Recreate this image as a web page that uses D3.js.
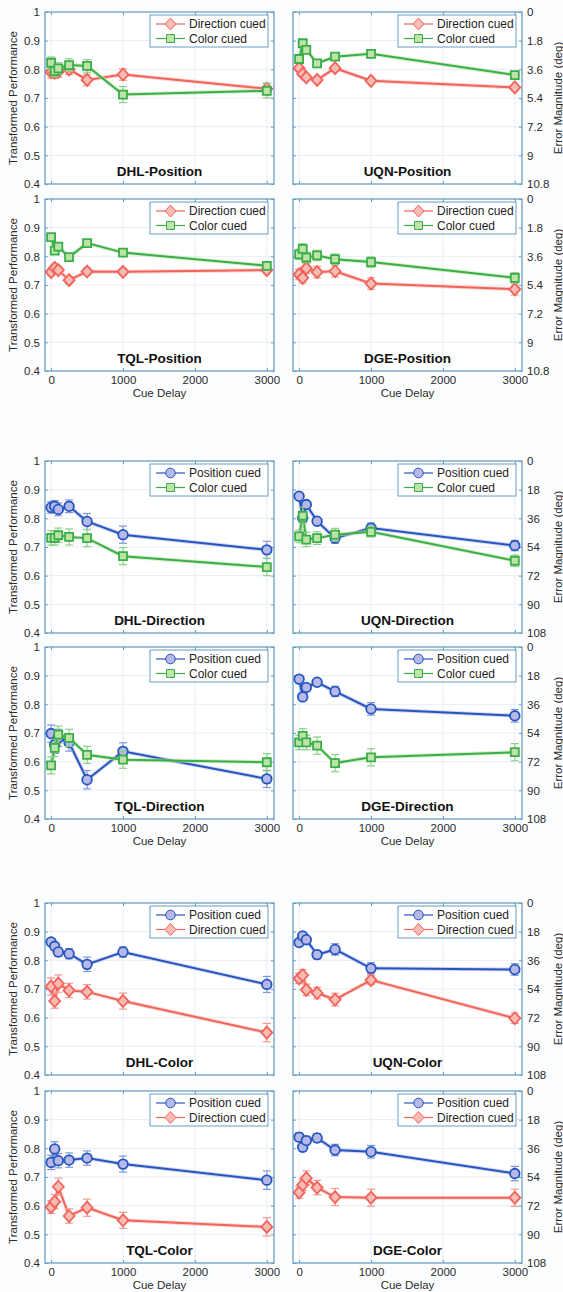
<!DOCTYPE html>
<meta charset="utf-8">
<html>
<head>
<style>
body {
  margin: 0;
  background: #fcfdfe;
  font-family: Arial, "Liberation Sans", Helvetica, sans-serif;
}
.tick text { fill: #2b2b2b; }
</style>
</head>
<body>
<div id="my_dataviz"></div>
<script src="https://d3js.org/d3.v7.min.js"></script>
<script>

// x values (cue delay, ms) and tick labels
var cueDelay = [0, 50, 100, 250, 500, 1000, 3000];
var xTicks = [0, 1000, 2000, 3000];
var perfTicks = [0.4, 0.5, 0.6, 0.7, 0.8, 0.9, 1];
var perfTickLabels = ["0.4", "0.5", "0.6", "0.7", "0.8", "0.9", "1"];
var errTicksPosition = ["10.8", "9", "7.2", "5.4", "3.6", "1.8", "0"];
var errTicksDeg = ["108", "90", "72", "54", "36", "18", "0"];

// ---- Position task ----
var dhlPosDir    = [0.790, 0.788, 0.792, 0.800, 0.763, 0.782, 0.732];
var dhlPosDirErr = [0.020, 0.020, 0.020, 0.018, 0.020, 0.020, 0.020];
var dhlPosCol    = [0.823, 0.794, 0.803, 0.815, 0.812, 0.712, 0.725];
var dhlPosColErr = [0.020, 0.020, 0.020, 0.022, 0.022, 0.028, 0.025];

var uqnPosDir    = [0.804, 0.784, 0.772, 0.763, 0.804, 0.760, 0.737];
var uqnPosDirErr = [0.006, 0.006, 0.006, 0.006, 0.006, 0.006, 0.006];
var uqnPosCol    = [0.836, 0.891, 0.868, 0.821, 0.844, 0.854, 0.780];
var uqnPosColErr = [0.005, 0.005, 0.005, 0.005, 0.005, 0.005, 0.005];

var tqlPosDir    = [0.745, 0.760, 0.752, 0.717, 0.747, 0.746, 0.752];
var tqlPosDirErr = [0.012, 0.012, 0.012, 0.012, 0.012, 0.012, 0.012];
var tqlPosCol    = [0.867, 0.820, 0.834, 0.797, 0.846, 0.813, 0.767];
var tqlPosColErr = [0.008, 0.008, 0.008, 0.012, 0.008, 0.008, 0.008];

var dgePosDir    = [0.737, 0.725, 0.758, 0.745, 0.748, 0.705, 0.685];
var dgePosDirErr = [0.018, 0.018, 0.018, 0.020, 0.020, 0.020, 0.020];
var dgePosCol    = [0.807, 0.826, 0.796, 0.803, 0.790, 0.780, 0.725];
var dgePosColErr = [0.018, 0.018, 0.018, 0.018, 0.018, 0.018, 0.018];

// ---- Direction task ----
var dhlDirPos    = [0.838, 0.842, 0.831, 0.842, 0.789, 0.743, 0.690];
var dhlDirPosErr = [0.020, 0.020, 0.022, 0.022, 0.028, 0.030, 0.030];
var dhlDirCol    = [0.732, 0.732, 0.741, 0.735, 0.731, 0.668, 0.630];
var dhlDirColErr = [0.025, 0.025, 0.025, 0.028, 0.030, 0.030, 0.030];

var uqnDirPos    = [0.877, 0.801, 0.848, 0.790, 0.731, 0.766, 0.705];
var uqnDirPosErr = [0.008, 0.015, 0.010, 0.010, 0.018, 0.018, 0.018];
var uqnDirCol    = [0.737, 0.809, 0.726, 0.731, 0.743, 0.753, 0.652];
var uqnDirColErr = [0.022, 0.030, 0.025, 0.022, 0.022, 0.018, 0.020];

var tqlDirPos    = [0.698, 0.659, 0.683, 0.667, 0.537, 0.636, 0.540];
var tqlDirPosErr = [0.030, 0.030, 0.030, 0.030, 0.032, 0.030, 0.030];
var tqlDirCol    = [0.587, 0.648, 0.694, 0.683, 0.624, 0.607, 0.598];
var tqlDirColErr = [0.030, 0.030, 0.030, 0.030, 0.030, 0.030, 0.030];

var dgeDirPos    = [0.888, 0.826, 0.859, 0.877, 0.845, 0.784, 0.760];
var dgeDirPosErr = [0.010, 0.012, 0.012, 0.012, 0.018, 0.022, 0.022];
var dgeDirCol    = [0.667, 0.690, 0.667, 0.656, 0.595, 0.615, 0.633];
var dgeDirColErr = [0.025, 0.025, 0.025, 0.030, 0.030, 0.030, 0.030];

// ---- Color task ----
var dhlColPos    = [0.864, 0.849, 0.829, 0.823, 0.786, 0.829, 0.716];
var dhlColPosErr = [0.012, 0.012, 0.015, 0.018, 0.025, 0.018, 0.028];
var dhlColDir    = [0.709, 0.658, 0.719, 0.695, 0.690, 0.658, 0.548];
var dhlColDirErr = [0.030, 0.025, 0.030, 0.025, 0.025, 0.028, 0.032];

var uqnColPos    = [0.862, 0.885, 0.872, 0.820, 0.838, 0.772, 0.768];
var uqnColPosErr = [0.010, 0.010, 0.010, 0.015, 0.020, 0.020, 0.020];
var uqnColDir    = [0.737, 0.748, 0.697, 0.686, 0.663, 0.731, 0.598];
var uqnColDirErr = [0.018, 0.020, 0.020, 0.020, 0.022, 0.015, 0.018];

var tqlColPos    = [0.751, 0.798, 0.757, 0.759, 0.766, 0.745, 0.689];
var tqlColPosErr = [0.025, 0.025, 0.025, 0.025, 0.025, 0.028, 0.032];
var tqlColDir    = [0.595, 0.614, 0.666, 0.564, 0.593, 0.549, 0.526];
var tqlColDirErr = [0.022, 0.025, 0.030, 0.025, 0.030, 0.028, 0.032];

var dgeColPos    = [0.839, 0.804, 0.827, 0.836, 0.794, 0.788, 0.712];
var dgeColPosErr = [0.015, 0.015, 0.015, 0.015, 0.020, 0.022, 0.025];
var dgeColDir    = [0.646, 0.673, 0.696, 0.663, 0.630, 0.628, 0.628];
var dgeColDirErr = [0.020, 0.020, 0.025, 0.025, 0.030, 0.030, 0.030];

// series look
var styles = {
  pos: {label: "Position cued",  line: "#2456c0", fill: "#b7b8e8", bar: "#7f96dc", shape: "circle"},
  dir: {label: "Direction cued", line: "#f1635b", fill: "#f8bcb4", bar: "#f29a90", shape: "diamond"},
  col: {label: "Color cued",     line: "#3aae48", fill: "#bde3a9", bar: "#8dcf86", shape: "square"}
};

// panels: group (task), row, column
var panels = [
  {name: "DHL-Position", g: 0, r: 0, c: 0, s: [["dir", dhlPosDir, dhlPosDirErr], ["col", dhlPosCol, dhlPosColErr]]},
  {name: "UQN-Position", g: 0, r: 0, c: 1, s: [["dir", uqnPosDir, uqnPosDirErr], ["col", uqnPosCol, uqnPosColErr]]},
  {name: "TQL-Position", g: 0, r: 1, c: 0, s: [["dir", tqlPosDir, tqlPosDirErr], ["col", tqlPosCol, tqlPosColErr]]},
  {name: "DGE-Position", g: 0, r: 1, c: 1, s: [["dir", dgePosDir, dgePosDirErr], ["col", dgePosCol, dgePosColErr]]},
  {name: "DHL-Direction", g: 1, r: 0, c: 0, s: [["pos", dhlDirPos, dhlDirPosErr], ["col", dhlDirCol, dhlDirColErr]]},
  {name: "UQN-Direction", g: 1, r: 0, c: 1, s: [["pos", uqnDirPos, uqnDirPosErr], ["col", uqnDirCol, uqnDirColErr]]},
  {name: "TQL-Direction", g: 1, r: 1, c: 0, s: [["pos", tqlDirPos, tqlDirPosErr], ["col", tqlDirCol, tqlDirColErr]]},
  {name: "DGE-Direction", g: 1, r: 1, c: 1, s: [["pos", dgeDirPos, dgeDirPosErr], ["col", dgeDirCol, dgeDirColErr]]},
  {name: "DHL-Color", g: 2, r: 0, c: 0, s: [["pos", dhlColPos, dhlColPosErr], ["dir", dhlColDir, dhlColDirErr]]},
  {name: "UQN-Color", g: 2, r: 0, c: 1, s: [["pos", uqnColPos, uqnColPosErr], ["dir", uqnColDir, uqnColDirErr]]},
  {name: "TQL-Color", g: 2, r: 1, c: 0, s: [["pos", tqlColPos, tqlColPosErr], ["dir", tqlColDir, tqlColDirErr]]},
  {name: "DGE-Color", g: 2, r: 1, c: 1, s: [["pos", dgeColPos, dgeColPosErr], ["dir", dgeColDir, dgeColDirErr]]}
];

// layout
var W = 563, H = 1292;
var colX = [45, 293], plotW = 229, plotH = 172;
var rowTops = [[12, 199], [461, 647], [903, 1091]];
var frame = "#6a9ec3", grid = "#e6edf4";

var svg = d3.select("#my_dataviz")
  .append("svg")
    .attr("width", W)
    .attr("height", H);

function markerPath(shape) {
  if (shape == "diamond") return "M0,-6L5.5,0L0,6L-5.5,0Z";
  if (shape == "square") return "M-4,-4H4V4H-4Z";
  return d3.symbol().type(d3.symbolCircle).size(Math.PI * 4.8 * 4.8)();
}

panels.forEach(function(p) {
  var left = colX[p.c], top = rowTops[p.g][p.r];
  var x = d3.scaleLinear().domain([-85, 3100]).range([left, left + plotW]);
  var y = d3.scaleLinear().domain([0.4, 1]).range([top + plotH, top]);
  var g = svg.append("g");

  g.append("rect")
    .attr("x", left).attr("y", top)
    .attr("width", plotW).attr("height", plotH)
    .attr("fill", "#ffffff");

  // grid
  g.selectAll(".gx").data(xTicks).enter().append("line")
    .attr("x1", function(d) { return x(d); }).attr("x2", function(d) { return x(d); })
    .attr("y1", top).attr("y2", top + plotH)
    .attr("stroke", grid).attr("stroke-width", 1);
  g.selectAll(".gy").data(perfTicks.slice(1, -1)).enter().append("line")
    .attr("x1", left).attr("x2", left + plotW)
    .attr("y1", function(d) { return y(d); }).attr("y2", function(d) { return y(d); })
    .attr("stroke", grid).attr("stroke-width", 1);

  // axes
  var yl = g.append("g").attr("transform", "translate(" + left + ",0)")
    .call(d3.axisLeft(y).tickValues(perfTicks).tickSizeInner(-3).tickSizeOuter(0)
      .tickFormat(function(d, i) { return p.c == 0 ? perfTickLabels[i] : ""; }));
  var errLabels = p.g == 0 ? errTicksPosition : errTicksDeg;
  var yr = g.append("g").attr("transform", "translate(" + (left + plotW) + ",0)")
    .call(d3.axisRight(y).tickValues(perfTicks).tickSizeInner(-3).tickSizeOuter(0)
      .tickFormat(function(d, i) { return p.c == 1 ? errLabels[i] : ""; }));
  var xb = g.append("g").attr("transform", "translate(0," + (top + plotH) + ")")
    .call(d3.axisBottom(x).tickValues(xTicks).tickSizeInner(-3).tickSizeOuter(0)
      .tickFormat(function(d) { return p.r == 1 ? d : ""; }));
  var xt = g.append("g").attr("transform", "translate(0," + top + ")")
    .call(d3.axisTop(x).tickValues(xTicks).tickSizeInner(-3).tickSizeOuter(0).tickFormat(""));
  [yl, yr, xb, xt].forEach(function(a) {
    a.selectAll("line").attr("stroke", frame);
    a.select(".domain").remove();
    a.selectAll("text").style("font-size", "11.5px").style("font-family", "Arial, 'Liberation Sans', sans-serif");
  });
  yl.selectAll("text").attr("x", -5);
  yr.selectAll("text").attr("x", 5);
  xb.selectAll("text").attr("y", 5);

  g.append("rect")
    .attr("x", left).attr("y", top)
    .attr("width", plotW).attr("height", plotH)
    .attr("fill", "none").attr("stroke", frame).attr("stroke-width", 1.3);

  // series
  p.s.forEach(function(s) {
    var st = styles[s[0]], vals = s[1], err = s[2];
    var pts = cueDelay.map(function(t, i) { return {t: t, v: vals[i], e: err[i]}; });
    var line = d3.line().x(function(d) { return x(d.t); }).y(function(d) { return y(d.v); });

    g.append("path").datum(pts).attr("d", line)
      .attr("fill", "none").attr("stroke", st.fill).attr("stroke-width", 4).attr("opacity", 0.6);
    g.append("path").datum(pts).attr("d", line)
      .attr("fill", "none").attr("stroke", st.line).attr("stroke-width", 2);

    var eb = g.selectAll(null).data(pts).enter().append("g").attr("stroke", st.bar).attr("stroke-width", 1.2);
    eb.append("line")
      .attr("x1", function(d) { return x(d.t); }).attr("x2", function(d) { return x(d.t); })
      .attr("y1", function(d) { return y(d.v - d.e); }).attr("y2", function(d) { return y(d.v + d.e); });
    eb.append("line")
      .attr("x1", function(d) { return x(d.t) - 4; }).attr("x2", function(d) { return x(d.t) + 4; })
      .attr("y1", function(d) { return y(d.v - d.e); }).attr("y2", function(d) { return y(d.v - d.e); });
    eb.append("line")
      .attr("x1", function(d) { return x(d.t) - 4; }).attr("x2", function(d) { return x(d.t) + 4; })
      .attr("y1", function(d) { return y(d.v + d.e); }).attr("y2", function(d) { return y(d.v + d.e); });

    g.selectAll(null).data(pts).enter().append("path")
      .attr("d", markerPath(st.shape))
      .attr("transform", function(d) { return "translate(" + x(d.t) + "," + y(d.v) + ")"; })
      .attr("fill", st.fill).attr("stroke", st.line).attr("stroke-width", 1.8);
  });

  // legend
  var lx = left + plotW - 124, ly = top + 3;
  g.append("rect").attr("x", lx).attr("y", ly).attr("width", 118).attr("height", 32)
    .attr("fill", "#ffffff").attr("stroke", frame).attr("stroke-width", 1);
  p.s.forEach(function(s, i) {
    var st = styles[s[0]], yy = ly + 9 + i * 14.5;
    g.append("line").attr("x1", lx + 6).attr("x2", lx + 35).attr("y1", yy).attr("y2", yy)
      .attr("stroke", st.line).attr("stroke-width", 1.2);
    g.append("path").attr("d", markerPath(st.shape))
      .attr("transform", "translate(" + (lx + 20.5) + "," + yy + ")")
      .attr("fill", st.fill).attr("stroke", st.line).attr("stroke-width", 1);
    g.append("text").attr("x", lx + 39).attr("y", yy + 4.2)
      .style("font-size", "12px").attr("fill", "#1e1e1e").text(st.label);
  });

  // panel title
  g.append("text")
    .attr("x", left + plotW / 2).attr("y", top + plotH - 8)
    .attr("text-anchor", "middle")
    .style("font-size", "13.5px").style("font-weight", "bold").attr("fill", "#111")
    .text(p.name);

  // side labels
  var cy = top + plotH / 2;
  if (p.c == 0) {
    g.append("text")
      .attr("transform", "translate(17," + cy + ") rotate(-90)")
      .attr("text-anchor", "middle")
      .style("font-size", "11.5px").attr("fill", "#2b2b2b")
      .text("Transformed Performance");
  } else {
    g.append("text")
      .attr("transform", "translate(562," + cy + ") rotate(-90)")
      .attr("text-anchor", "middle")
      .style("font-size", "11.5px").attr("fill", "#2b2b2b")
      .text("Error Magnitude (deg)");
  }
  if (p.r == 1) {
    g.append("text")
      .attr("x", left + plotW / 2).attr("y", top + plotH + 26)
      .attr("text-anchor", "middle")
      .style("font-size", "11.5px").attr("fill", "#2b2b2b")
      .text("Cue Delay");
  }
});

</script>
</body>
</html>
